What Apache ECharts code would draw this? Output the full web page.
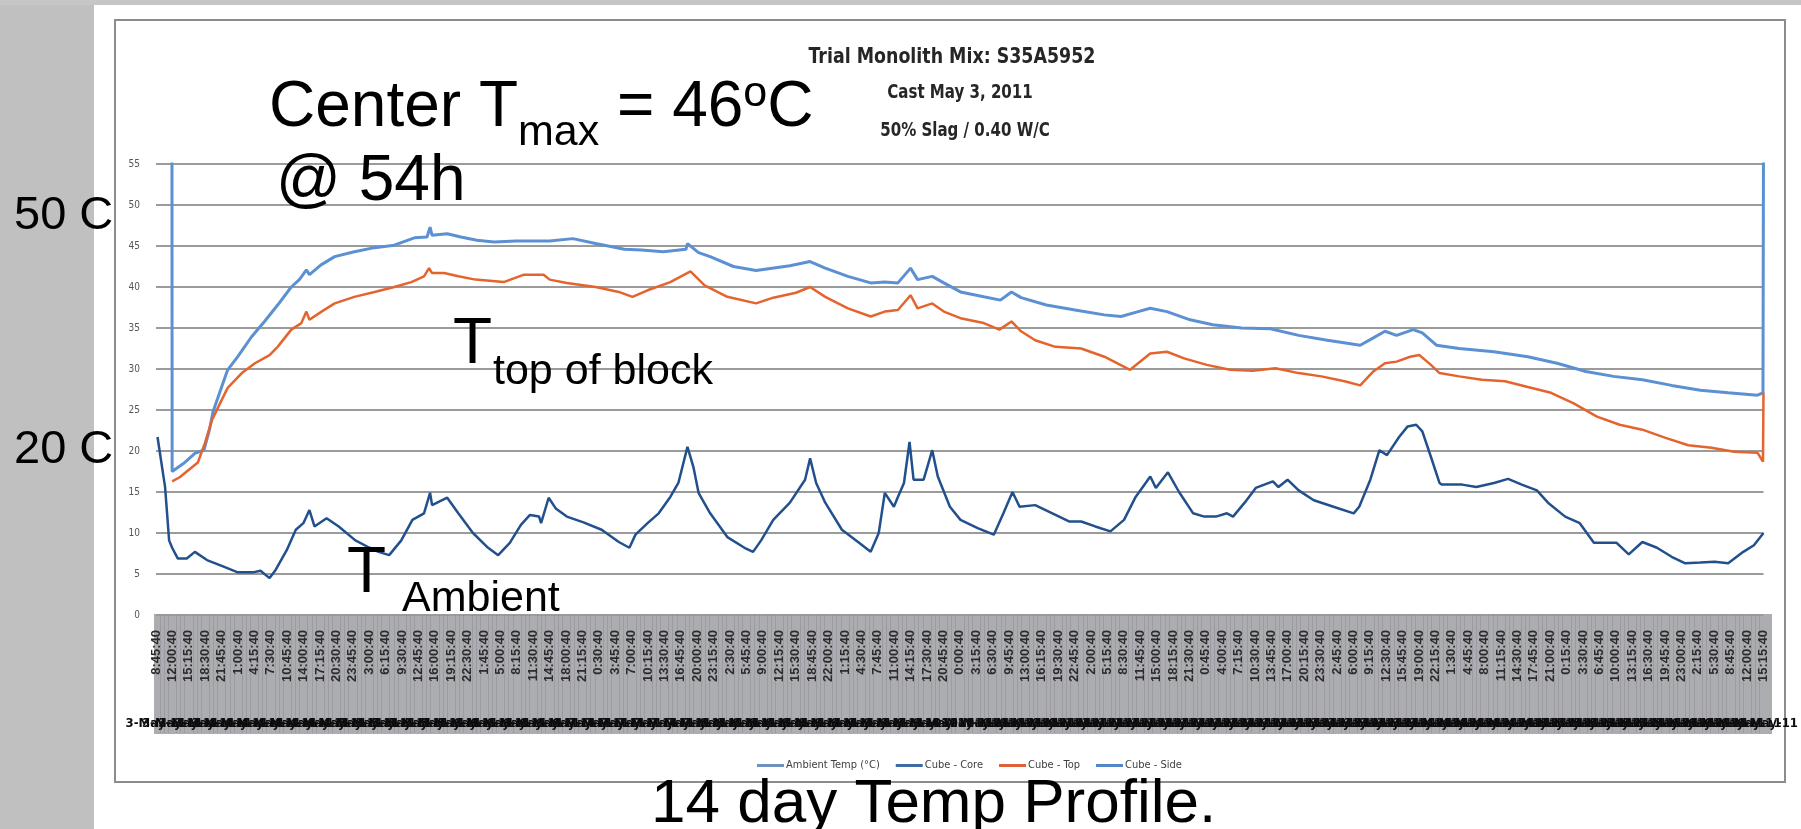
<!DOCTYPE html>
<html><head><meta charset="utf-8">
<script src="https://cdn.jsdelivr.net/npm/echarts@6/dist/echarts.min.js"></script>
<style>html,body{margin:0;padding:0;background:#fff}#c{width:1801px;height:829px}</style>
</head><body><div id="c"></div>
<script>
// ---- tick labels (one every 3h15m from 3 May 2011 08:45:40) ----
const timeLabels = ['8:45:40','12:00:40','15:15:40','18:30:40','21:45:40','1:00:40','4:15:40','7:30:40','10:45:40','14:00:40','17:15:40','20:30:40','23:45:40','3:00:40','6:15:40','9:30:40','12:45:40','16:00:40','19:15:40','22:30:40','1:45:40','5:00:40','8:15:40','11:30:40','14:45:40','18:00:40','21:15:40','0:30:40','3:45:40','7:00:40','10:15:40','13:30:40','16:45:40','20:00:40','23:15:40','2:30:40','5:45:40','9:00:40','12:15:40','15:30:40','18:45:40','22:00:40','1:15:40','4:30:40','7:45:40','11:00:40','14:15:40','17:30:40','20:45:40','0:00:40','3:15:40','6:30:40','9:45:40','13:00:40','16:15:40','19:30:40','22:45:40','2:00:40','5:15:40','8:30:40','11:45:40','15:00:40','18:15:40','21:30:40','0:45:40','4:00:40','7:15:40','10:30:40','13:45:40','17:00:40','20:15:40','23:30:40','2:45:40','6:00:40','9:15:40','12:30:40','15:45:40','19:00:40','22:15:40','1:30:40','4:45:40','8:00:40','11:15:40','14:30:40','17:45:40','21:00:40','0:15:40','3:30:40','6:45:40','10:00:40','13:15:40','16:30:40','19:45:40','23:00:40','2:15:40','5:30:40','8:45:40','12:00:40','15:15:40'];
const dateLabels = ['3-May-11','3-May-11','3-May-11','3-May-11','3-May-11','4-May-11','4-May-11','4-May-11','4-May-11','4-May-11','4-May-11','4-May-11','4-May-11','5-May-11','5-May-11','5-May-11','5-May-11','5-May-11','5-May-11','5-May-11','6-May-11','6-May-11','6-May-11','6-May-11','6-May-11','6-May-11','6-May-11','7-May-11','7-May-11','7-May-11','7-May-11','7-May-11','7-May-11','7-May-11','7-May-11','8-May-11','8-May-11','8-May-11','8-May-11','8-May-11','8-May-11','8-May-11','9-May-11','9-May-11','9-May-11','9-May-11','9-May-11','9-May-11','9-May-11','10-May-11','10-May-11','10-May-11','10-May-11','10-May-11','10-May-11','10-May-11','10-May-11','11-May-11','11-May-11','11-May-11','11-May-11','11-May-11','11-May-11','11-May-11','12-May-11','12-May-11','12-May-11','12-May-11','12-May-11','12-May-11','12-May-11','12-May-11','13-May-11','13-May-11','13-May-11','13-May-11','13-May-11','13-May-11','13-May-11','14-May-11','14-May-11','14-May-11','14-May-11','14-May-11','14-May-11','14-May-11','15-May-11','15-May-11','15-May-11','15-May-11','15-May-11','15-May-11','15-May-11','15-May-11','16-May-11','16-May-11','16-May-11','16-May-11','16-May-11'];
const tickStepHours = 3.25;
const yTickStep = 5;

// ---- series (hours since first label, °C) ----
const ambientHours = [0.3,1.8,2.6,3.2,4.3,6.1,7.7,10.1,13.4,16.2,19.2,20.7,22.5,23.7,25.9,27.7,29.2,30.4,31.4,33.8,36.2,39.5,42.3,44.1,46.2,48.6,50.8,53.1,54.3,54.7,57.7,59.9,62.8,65.6,67.8,70.1,72.3,74.1,75.9,76.3,77.8,79.2,81.4,84.7,88.3,91.7,93.8,95.0,97.4,99.6,101.9,103.5,105.3,106.5,107.5,109.8,113.2,116.6,118.3,119.9,122.3,125.6,128.6,129.6,130.8,132.6,135.9,139.3,141.6,143.2,144.4,146.2,147.0,148.2,149.3,150.1,152.1,153.8,154.9,157.3,159.4,162.8,166.0,167.9,169.7,171.1,174.2,177.6,181.0,183.3,186.1,189.1,191.8,194.1,197.0,198.1,200.5,202.7,205.5,207.7,210.0,212.2,213.4,215.7,217.9,221.3,222.4,224.2,226.4,229.4,233.3,237.3,238.4,240.6,242.4,243.9,246.3,248.0,249.7,250.9,252.6,254.3,254.8,258.8,261.6,265.1,267.9,270.6,273.6,275.8,279.2,282.1,284.9,287.8,289.4,291.8,294.5,297.4,300.3,303.0,306.0,308.8,311.5,314.5,316.6,318.5];
const ambientTemp = [21.7,15.6,9.1,8.2,6.9,6.9,7.7,6.7,5.9,5.2,5.2,5.4,4.5,5.5,7.9,10.4,11.2,12.8,10.8,11.8,10.8,9.1,8.2,7.7,7.3,9.1,11.6,12.4,14.9,13.4,14.3,12.4,10.0,8.3,7.3,8.8,11.0,12.2,12.0,11.2,14.3,13.0,12.0,11.3,10.4,8.9,8.2,9.8,11.2,12.4,14.4,16.1,20.5,18.0,14.9,12.4,9.5,8.2,7.7,9.1,11.6,13.7,16.5,19.1,16.1,13.7,10.4,8.8,7.7,10.0,14.9,13.2,14.4,16.1,21.1,16.5,16.5,20.1,16.9,13.2,11.6,10.6,9.8,12.4,15.0,13.2,13.4,12.4,11.4,11.4,10.8,10.2,11.6,14.4,16.9,15.5,17.4,15.0,12.4,12.0,12.0,12.4,12.0,13.7,15.5,16.3,15.6,16.5,15.2,14.0,13.2,12.4,13.2,16.5,20.1,19.5,21.7,23.0,23.2,22.4,19.3,16.1,15.9,15.9,15.6,16.1,16.6,15.9,15.2,13.7,12.0,11.2,8.8,8.8,8.8,7.4,8.9,8.2,7.1,6.3,6.4,6.5,6.3,7.7,8.5,10.0];

const coreHours = [3.16,3.2,5.5,7.7,9.5,10.6,11.3,13.0,14.2,16.2,18.9,21.5,24.1,26.8,28.4,29.8,30.4,32.7,35.4,39.3,43.3,47.2,51.2,53.7,54.3,54.7,57.7,60.4,63.6,67.0,71.3,78.0,82.6,87.1,92.8,96.2,100.5,105.0,105.3,107.5,109.8,114.4,118.9,125.6,129.6,132.6,137.1,141.6,144.4,147.0,149.5,150.9,153.8,156.1,159.4,164.0,167.3,169.5,171.4,176.4,182.1,187.9,191.2,194.6,197.0,200.3,204.9,209.4,215.1,220.8,226.4,232.1,238.6,241.2,243.5,245.8,249.1,250.9,253.7,258.2,265.1,271.8,277.6,283.3,288.8,294.5,300.3,306.0,311.5,317.3,318.4,318.5];
const coreTemp = [58,17.5,18.5,19.7,20.1,22.6,24.8,27.8,29.9,31.5,33.9,35.8,37.8,40.0,40.9,42.1,41.5,42.7,43.7,44.3,44.8,45.1,46.0,46.1,47.3,46.3,46.5,46.1,45.7,45.5,45.6,45.6,45.9,45.3,44.6,44.5,44.3,44.6,45.3,44.2,43.7,42.5,42.0,42.6,43.1,42.3,41.3,40.5,40.6,40.5,42.3,40.9,41.3,40.5,39.4,38.8,38.4,39.4,38.7,37.8,37.2,36.6,36.4,37.0,37.4,37.0,36.0,35.4,35.0,34.9,34.1,33.5,32.9,33.8,34.6,34.1,34.8,34.4,32.9,32.5,32.1,31.5,30.7,29.7,29.1,28.7,28.0,27.4,27.1,26.8,27.1,58];

const topHours = [3.2,4.7,6.7,8.3,9.7,11.1,13.0,14.2,17.0,19.6,22.5,24.1,26.8,28.8,29.8,30.4,32.8,35.4,39.3,43.3,47.2,50.6,53.1,54.1,54.7,57.1,59.9,63.3,68.9,72.9,76.8,78.0,81.4,87.1,91.7,94.4,97.4,101.9,105.9,108.7,113.2,118.9,122.3,126.8,129.6,132.6,137.1,141.6,144.4,147.0,149.5,150.9,153.8,156.1,159.4,164.0,167.1,169.5,171.4,174.2,178.2,183.3,187.9,193.0,197.0,200.3,203.7,208.2,212.8,217.3,221.8,226.4,230.9,235.5,238.6,241.2,243.5,245.8,248.5,250.3,252.6,254.3,258.2,262.7,267.3,271.8,276.4,280.9,285.5,290.0,294.5,299.1,303.6,308.2,312.7,317.3,318.4,318.5];
const topTemp = [16.3,16.8,17.8,18.6,21.0,23.8,26.2,27.7,29.5,30.7,31.7,32.7,34.8,35.6,37.0,36.0,37.0,38.0,38.8,39.4,40.0,40.6,41.3,42.3,41.7,41.7,41.3,40.9,40.6,41.5,41.5,40.9,40.5,40.0,39.4,38.8,39.6,40.6,41.9,40.2,38.8,38.0,38.7,39.3,40.0,38.8,37.4,36.4,37.0,37.2,39.0,37.4,38.0,37.0,36.2,35.6,34.8,35.8,34.6,33.5,32.7,32.5,31.5,29.9,31.9,32.1,31.3,30.5,29.9,29.8,30.1,29.5,29.1,28.5,28.0,29.7,30.7,30.9,31.5,31.7,30.5,29.5,29.1,28.7,28.5,27.8,27.1,25.8,24.2,23.2,22.6,21.6,20.7,20.4,19.9,19.8,18.7,27.1];

const sideHours = [];
const sideTemp = [];

const seriesNames = ['Ambient Temp (°C)','Cube - Core','Cube - Top','Cube - Side'];
const titleLines = ['Trial Monolith Mix: S35A5952','Cast May 3, 2011','50% Slag / 0.40 W/C'];

// ---- build ----
const pairs = (h, v) => h.map((x, i) => [x, v[i]]);
const NARROW = '"Liberation Sans Narrow","DejaVu Sans Condensed",sans-serif';
const ARIAL = '"Liberation Sans",Arial,sans-serif';
const cv = document.createElement('canvas').getContext('2d');
function tw(t, size){ cv.font = size + 'px ' + ARIAL; return cv.measureText(t).width; }
function txt(t, x, base, size){
  return {type:'text', x:x, y:base - 0.3465*size, z:100,
    style:{text:t, font:size + 'px ' + ARIAL, fill:'#000', textAlign:'left', textVerticalAlign:'middle', verticalAlign:'middle'}};
}
function runs(x, base, parts){
  const out = [];
  let cx = x;
  parts.forEach(p => { out.push(txt(p[0], cx, base + (p[2]||0), p[1])); cx += tw(p[0], p[1]); });
  return out;
}
function titleText(t, cx, cy, size){
  return {type:'text', x:cx, y:cy, scaleX:0.88, z:50,
    style:{text:t, font:'bold ' + size + 'px ' + NARROW, fill:'#262626', textAlign:'center', textVerticalAlign:'middle', verticalAlign:'middle'}};
}
const graphics = [
  {type:'rect', z:-30, shape:{x:0,y:0,width:94,height:829}, style:{fill:'#c0c0c0'}},
  {type:'rect', z:-30, shape:{x:0,y:0,width:1801,height:5}, style:{fill:'#c6c6c6'}},
  {type:'rect', z:-20, shape:{x:115,y:20,width:1670,height:762}, style:{fill:'#fff', stroke:'#8c8c8c', lineWidth:2}},
  {type:'rect', z:-10, shape:{x:154,y:614,width:1618,height:120}, style:{fill:'#acadb1'}},
  titleText(titleLines[0], 952, 57, 22),
  titleText(titleLines[1], 960, 93, 19),
  titleText(titleLines[2], 965, 131, 19)
].concat(
  runs(269, 131, [['Center T',64],['max',43,17],[' = 46',64],['o',43,-22],['C',64]]),
  [txt('@ 54h', 276, 205, 64),
   txt('50 C', 14, 232, 47),
   txt('20 C', 14, 466, 47),
   txt('T', 453, 368, 64), txt('top of block', 493, 387, 43),
   txt('T', 347, 597, 64), txt('Ambient', 402, 614, 43),
   txt('14 day Temp Profile.', 651, 826, 62)]
);

const chart = echarts.init(document.getElementById('c'), null, {renderer:'canvas'});
chart.setOption({
  animation:false,
  backgroundColor:'#fff',
  grid:{left:156, right:33, top:164, bottom:214},
  xAxis:[{
    type:'value', min:0, max:tickStepHours*(timeLabels.length-1), interval:tickStepHours,
    axisLine:{show:false}, axisTick:{show:false}, splitLine:{show:false},
    minorTick:{show:true, splitNumber:4, length:118, lineStyle:{color:'rgba(80,80,88,0.18)', width:1}},
    axisLabel:{rotate:90, margin:15, fontSize:13, fontWeight:'bold', color:'#2b2b2b', fontFamily:ARIAL,
      formatter:v => timeLabels[Math.round(v/tickStepHours)]}
  },{
    type:'category', position:'bottom', offset:102, data:dateLabels, boundaryGap:false,
    axisLine:{show:false}, axisTick:{show:false}, splitLine:{show:false},
    axisLabel:{interval:0, margin:0, fontSize:13, fontWeight:'bold', color:'#0d0d0d', fontFamily:NARROW}
  }],
  yAxis:{type:'value', min:0, max:55, interval:yTickStep,
    axisLine:{show:false}, axisTick:{show:false},
    splitLine:{lineStyle:{color:'#9b9b9b', width:2}},
    axisLabel:{margin:16, fontSize:10, color:'#555', fontFamily:NARROW}},
  legend:{left:752, top:755, itemWidth:27, itemHeight:3, itemGap:16, icon:'rect',
    textStyle:{fontSize:11, color:'#404040', fontFamily:NARROW, padding:[0,0,0,-3]},
    data:[{name:seriesNames[0], itemStyle:{color:'#6f93bd'}},
          {name:seriesNames[1], itemStyle:{color:'#3e6da6'}},
          {name:seriesNames[2], itemStyle:{color:'#e0603a'}},
          {name:seriesNames[3], itemStyle:{color:'#4f87c9'}}]},
  graphic:graphics,
  series:[
    {name:seriesNames[0], type:'line', xAxisIndex:0, data:pairs(ambientHours, ambientTemp), symbol:'none', lineStyle:{width:2.5, color:'#22508c'}, itemStyle:{color:'#22508c'}},
    {name:seriesNames[1], type:'line', xAxisIndex:0, data:pairs(coreHours, coreTemp), symbol:'none', lineStyle:{width:3, color:'#5b90d3'}, itemStyle:{color:'#5b90d3'}},
    {name:seriesNames[2], type:'line', xAxisIndex:0, data:pairs(topHours, topTemp), symbol:'none', lineStyle:{width:2.5, color:'#e5642e'}, itemStyle:{color:'#e5642e'}},
    {name:seriesNames[3], type:'line', xAxisIndex:0, data:pairs(sideHours, sideTemp), symbol:'none', lineStyle:{width:2.5, color:'#4f87c9'}, itemStyle:{color:'#4f87c9'}}
  ]
});
</script></body></html>
